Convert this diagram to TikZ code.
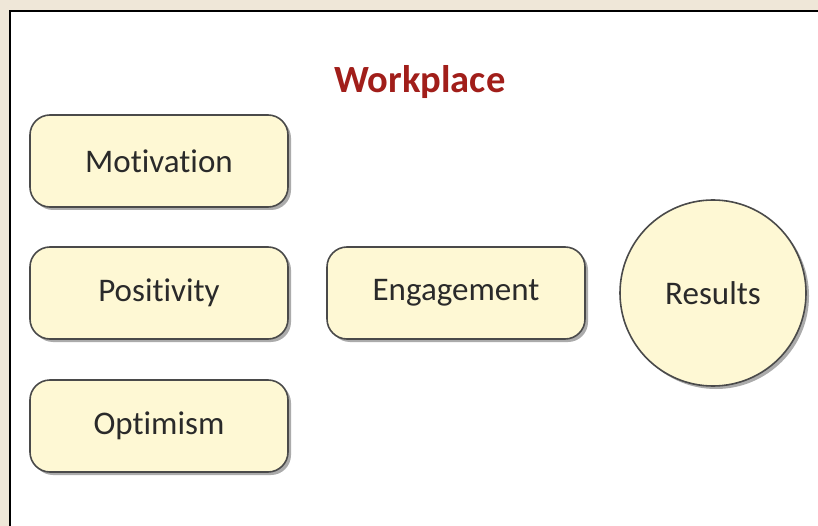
\documentclass[tikz,border=0pt]{standalone}
\usepackage{fontspec}
\setmainfont[Ligatures=NoCommon]{Carlito}
\usetikzlibrary{shadows}
\definecolor{paper}{HTML}{EFE7D8}
\definecolor{boxfill}{HTML}{FEF8D4}
\definecolor{boxline}{HTML}{4A4A4A}
\definecolor{titlered}{HTML}{A11E1A}
\definecolor{textgray}{HTML}{2A2A2A}
\tikzset{
  card/.style={draw=boxline, line width=1.6pt, fill=boxfill, rounded corners=20pt,
    minimum width=258pt, minimum height=92pt, inner sep=0pt,
    font=\fontsize{33}{38}\selectfont, text=textgray,
    drop shadow={shadow xshift=3pt, shadow yshift=-3pt, fill=black!55, opacity=0.6}},
  bubble/.style={draw=boxline, line width=1.6pt, fill=boxfill, circle,
    minimum size=186pt, inner sep=0pt,
    font=\fontsize{33}{38}\selectfont, text=textgray,
    drop shadow={shadow xshift=3pt, shadow yshift=-3pt, fill=black!55, opacity=0.6}},
  heading/.style={font=\fontsize{38.5}{44}\selectfont\bfseries, text=titlered}
}
\begin{document}
\begin{tikzpicture}[x=1pt, y=-1pt]
  \useasboundingbox (0,0) rectangle (818,526);
  % page background and white panel with its dark top/left rule
  \fill[paper] (0,0) rectangle (818,526);
  \fill[white] (10,11) rectangle (818,526);
  \draw[black, line width=2pt] (10,526) -- (10,11) -- (818,11);

  \node[heading] (title) at (420,82) {Workplace};

  \node[card] (motivation) at (159,161) {Motivation};
  \node[card] (positivity) at (159,293) {Positivity};
  \node[card] (optimism)   at (159,426) {Optimism};
  \node[card] (engagement) at (456,293) {Engagement};
  \node[bubble] (results)  at (713,293) {Results};
\end{tikzpicture}
\end{document}
